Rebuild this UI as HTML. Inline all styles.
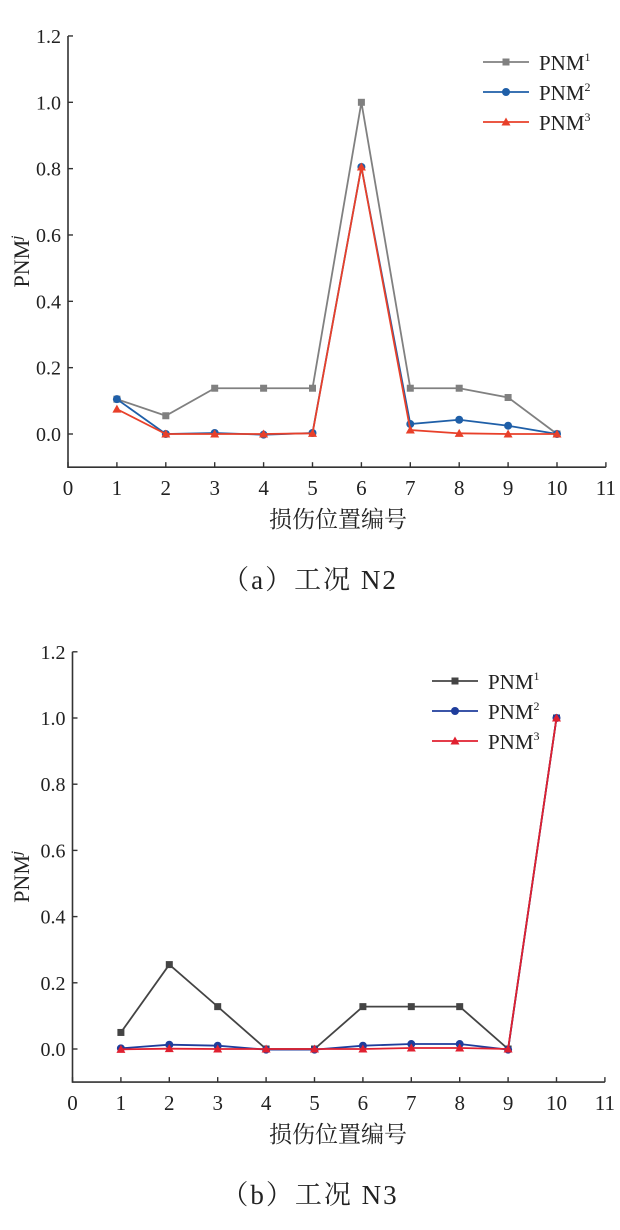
<!DOCTYPE html>
<html><head><meta charset="utf-8"><style>
body{margin:0;background:#fff;width:620px;height:1230px;overflow:hidden}
svg{display:block}
text{font-family:"Liberation Serif","Noto Serif CJK SC",serif;fill:#222}
</style></head><body>
<svg id="s" width="620" height="1230"></svg>
<script>
const categories=[1,2,3,4,5,6,7,8,9,10];
const xTicks=[0,1,2,3,4,5,6,7,8,9,10,11];
const yTicks=[0.0,0.2,0.4,0.6,0.8,1.0,1.2];
const yTickLabels=["0.0","0.2","0.4","0.6","0.8","1.0","1.2"];
const seriesNames=["PNM","PNM","PNM"];
const a_pnm1=[0.105,0.055,0.138,0.138,0.138,1.0,0.138,0.138,0.11,0.0];
const a_pnm2=[0.105,0.0,0.003,-0.002,0.003,0.805,0.03,0.043,0.025,0.0];
const a_pnm3=[0.075,0.0,0.0,0.0,0.002,0.805,0.012,0.002,0.0,0.0];
const b_pnm1=[0.05,0.255,0.128,0.0,0.0,0.128,0.128,0.128,0.0,1.0];
const b_pnm2=[0.002,0.013,0.01,-0.002,-0.002,0.01,0.015,0.015,-0.002,1.0];
const b_pnm3=[-0.001,0.001,0.0,0.0,0.0,0.0,0.003,0.003,0.0,1.0];

const NS="http://www.w3.org/2000/svg";
const svg=document.getElementById('s');
function mk(tag,attrs,parent,txt){const e=document.createElementNS(NS,tag);for(const k in attrs)e.setAttribute(k,attrs[k]);if(txt!==undefined)e.textContent=txt;(parent||svg).appendChild(e);return e;}

function marker(g,type,cx,cy,color){
  let m;
  if(type==='sq') m=mk('rect',{x:cx-3.5,y:cy-3.5,width:7,height:7,fill:color},g);
  else if(type==='ci') m=mk('circle',{cx:cx,cy:cy,r:4,fill:color},g);
  else m=mk('polygon',{points:`${cx},${cy-4.5} ${cx+4.5},${cy+3.5} ${cx-4.5},${cy+3.5}`,fill:color},g);
  return m;
}

function chart(cfg){
  const X=v=>cfg.x0+v*cfg.ux;
  const Y=v=>cfg.y0-v*cfg.uy;
  const g=mk('g',{});
  
  
  const yb=Y(-0.1);
  const ax=mk('path',{d:`M${X(0)},${Y(1.2)} V${yb} H${X(11)}`,stroke:'#333','stroke-width':1.6,fill:'none'},g);
  
  
  yTicks.forEach((v,i)=>{
    const t=mk('line',{x1:X(0),x2:X(0)+5,y1:Y(v),y2:Y(v),stroke:'#333','stroke-width':1.4},g);
    
    
    const l=mk('text',{x:X(0)-7,y:Y(v)+7,'text-anchor':'end','font-size':20},g,yTickLabels[i]);
    
    
  });
  xTicks.forEach(v=>{
    const t=mk('line',{x1:X(v),x2:X(v),y1:yb,y2:yb-5,stroke:'#333','stroke-width':1.4},g);
    
    
    const l=mk('text',{x:X(v),y:yb+28,'text-anchor':'middle','font-size':21},g,String(v));
    
    
  });
  const yt=mk('text',{x:0,y:0,'font-size':22,'text-anchor':'middle',transform:`translate(29,${Y(0.52)}) rotate(-90)`},g);
  yt.innerHTML='PNM<tspan font-style="italic" font-size="15" dy="-8">j</tspan>';
  
  
  const xt=mk('text',{x:338,y:yb+60,'text-anchor':'middle','font-size':23,'font-family':'"Noto Sans CJK SC",sans-serif'},g,'损伤位置编号');
  
  
  const cap=mk('text',{x:310,y:yb+122,'text-anchor':'middle','font-size':27,'letter-spacing':'2','font-family':'"Liberation Serif","Noto Serif CJK SC",serif'},g,cfg.caption);
  
  
  cfg.series.forEach((s,si)=>{
    const sg=mk('g',{},g);
    
    
    const pts=categories.map((c,i)=>X(c)+','+Y(s.data[i])).join(' ');
    mk('polyline',{points:pts,fill:'none',stroke:s.color,'stroke-width':1.8},sg);
    categories.forEach((c,i)=>{
      const m=marker(sg,s.mk,X(c),Y(s.data[i]),s.color);
      
      
    });
    const lg=mk('g',{},g);
    
    
    const ly=cfg.ly+si*30;
    mk('line',{x1:cfg.lx,x2:cfg.lx+46,y1:ly,y2:ly,stroke:s.color,'stroke-width':1.8},lg);
    marker(lg,s.mk,cfg.lx+23,ly,s.color);
    const lt=mk('text',{x:cfg.lx+56,y:ly+8,'font-size':21},lg);
    lt.innerHTML=seriesNames[si]+'<tspan font-size="12" dy="-9">'+(si+1)+'</tspan>';
  });
}

chart({name:'chart-n2',x0:68,ux:48.9,y0:434,uy:331.7,lx:483,ly:62,caption:'（a）工况 N2',
  series:[{data:a_pnm1,color:'#808080',mk:'sq'},{data:a_pnm2,color:'#1f5fa8',mk:'ci'},{data:a_pnm3,color:'#e8402a',mk:'tr'}]});
chart({name:'chart-n3',x0:72.5,ux:48.4,y0:1049,uy:331,lx:432,ly:681,caption:'（b）工况 N3',
  series:[{data:b_pnm1,color:'#444444',mk:'sq'},{data:b_pnm2,color:'#1f3d9c',mk:'ci'},{data:b_pnm3,color:'#e02030',mk:'tr'}]});
</script>
</body></html>
